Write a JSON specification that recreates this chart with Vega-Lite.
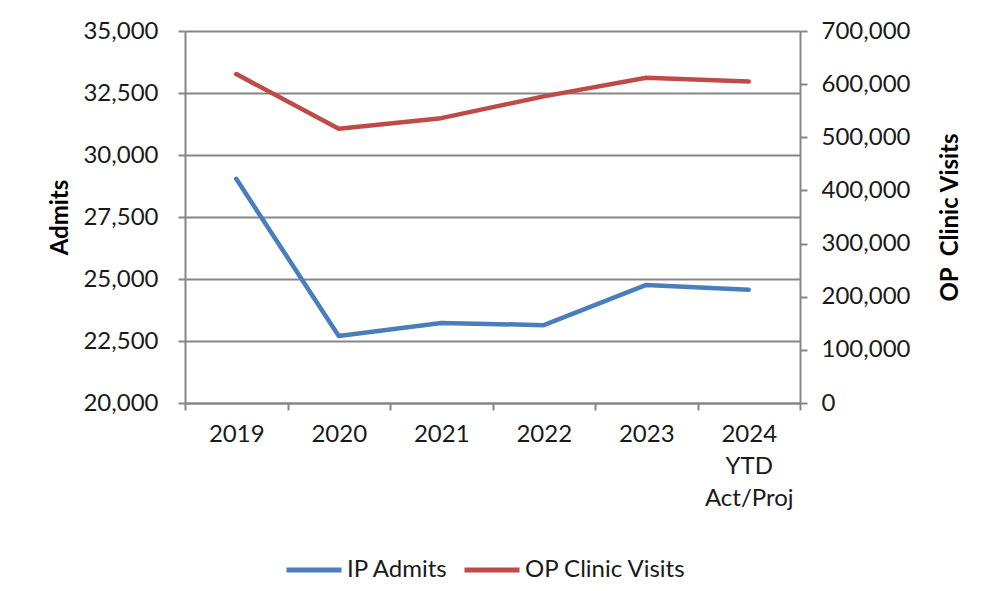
{
  "$schema": "https://vega.github.io/schema/vega-lite/v6.json",
  "width": 615,
  "height": 372,
  "autosize": {"type": "none"},
  "padding": {"left": 185, "top": 31, "right": 181, "bottom": 188},
  "background": "white",
  "config": {
    "font": "Lato",
    "view": {"stroke": null},
    "axis": {
      "labelFont": "Lato",
      "labelFontSize": 24,
      "labelColor": "#1a1a1a",
      "titleFont": "Lato",
      "titleFontSize": 24,
      "titleFontWeight": "bold",
      "titleColor": "#000000",
      "domainColor": "#868686",
      "domainWidth": 2,
      "tickColor": "#868686",
      "tickWidth": 2,
      "tickSize": 7,
      "gridColor": "#868686",
      "gridWidth": 2
    },
    "legend": {
      "labelFont": "Lato",
      "labelFontSize": 24,
      "labelColor": "#1a1a1a",
      "labelLimit": 400,
      "padding": 0
    }
  },
  "data": {
    "values": [
      {"year": "2019", "admits": 29040, "visits": 619000},
      {"year": "2020", "admits": 22700, "visits": 516000},
      {"year": "2021", "admits": 23230, "visits": 536000},
      {"year": "2022", "admits": 23140, "visits": 577000},
      {"year": "2023", "admits": 24760, "visits": 612000},
      {"year": "2024|YTD|Act/Proj", "admits": 24570, "visits": 605000}
    ]
  },
  "encoding": {
    "x": {
      "field": "year",
      "type": "ordinal",
      "sort": null,
      "scale": {"type": "band", "paddingInner": 0, "paddingOuter": 0},
      "axis": {
        "title": null,
        "labelAngle": 0,
        "tickBand": "extent",
        "labelPadding": 12,
        "labelBaseline": "top",
        "labelLineHeight": 32,
        "labelExpr": "split(datum.label, '|')",
        "grid": false
      }
    }
  },
  "layer": [
    {
      "mark": {"type": "line", "strokeWidth": 4.5, "strokeCap": "round", "strokeJoin": "round"},
      "encoding": {
        "y": {
          "field": "admits",
          "type": "quantitative",
          "scale": {"domain": [20000, 35000], "zero": false, "nice": false},
          "axis": {
            "orient": "left",
            "title": "Admits",
            "values": [20000, 22500, 25000, 27500, 30000, 32500, 35000],
            "format": ",.0f",
            "labelPadding": 20,
            "titlePadding": 10,
            "grid": true
          }
        },
        "color": {
          "datum": "IP Admits",
          "type": "nominal",
          "scale": {"domain": ["IP Admits", "OP Clinic Visits"], "range": ["#4A7EBB", "#BE4B48"]},
          "legend": {
            "title": null,
            "orient": "none",
            "direction": "horizontal",
            "legendX": 99,
            "legendY": 509,
            "symbolType": "stroke",
            "symbolSize": 3025,
            "symbolStrokeWidth": 5,
            "labelOffset": 3,
            "columnPadding": 5
          }
        }
      }
    },
    {
      "mark": {"type": "line", "strokeWidth": 4.5, "strokeCap": "round", "strokeJoin": "round"},
      "encoding": {
        "y": {
          "field": "visits",
          "type": "quantitative",
          "scale": {"domain": [0, 700000], "nice": false},
          "axis": {
            "orient": "right",
            "title": "OP\u00a0 Clinic Visits",
            "titleAngle": -90,
            "values": [0, 100000, 200000, 300000, 400000, 500000, 600000, 700000],
            "format": ",.0f",
            "labelPadding": 14,
            "titlePadding": 53,
            "grid": false
          }
        },
        "color": {"datum": "OP Clinic Visits", "type": "nominal"}
      }
    }
  ],
  "resolve": {"scale": {"y": "independent"}}
}
